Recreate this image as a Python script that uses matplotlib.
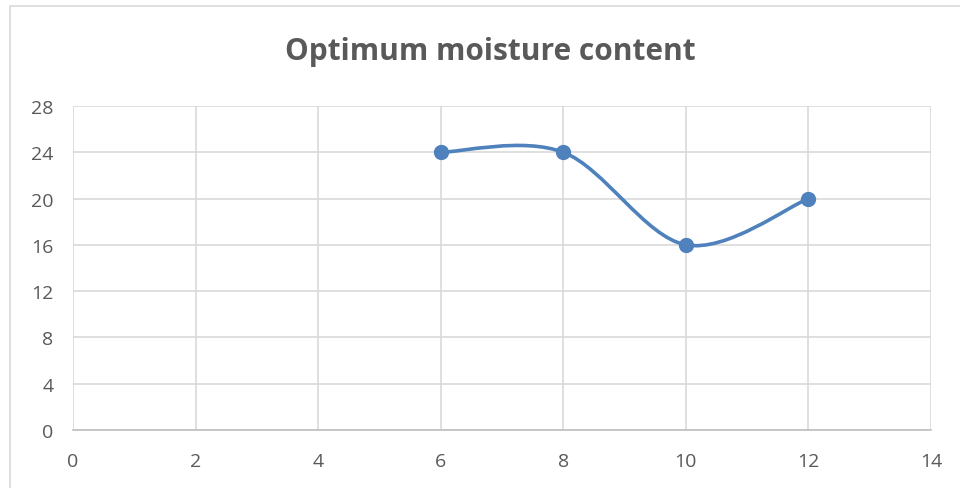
import matplotlib
matplotlib.use("Agg")
import matplotlib.pyplot as plt
from matplotlib.path import Path
from matplotlib.patches import PathPatch, Rectangle

x_vals = [6, 8, 10, 12]
y_vals = [24, 24, 16, 20]
x_ticks = [0, 2, 4, 6, 8, 10, 12, 14]
y_ticks = [0, 4, 8, 12, 16, 20, 24, 28]
title = "Optimum moisture content"

plt.rcParams['font.family'] = ['Open Sans', 'DejaVu Sans']
fig = plt.figure(figsize=(9.6, 4.89), dpi=100)
ax = fig.add_axes([73/960, 1-431/489, (931-73)/960, (431-107)/489])

# Excel-style smoothed line (Catmull-Rom -> cubic Bezier)
pts = list(zip(x_vals, y_vals))
verts = [pts[0]]
codes = [Path.MOVETO]
n = len(pts)
for i in range(n-1):
    p0 = pts[i-1] if i > 0 else pts[i]
    p1 = pts[i]
    p2 = pts[i+1]
    p3 = pts[i+2] if i+2 < n else pts[i+1]
    c1 = (p1[0] + (p2[0]-p0[0])/6, p1[1] + (p2[1]-p0[1])/6)
    c2 = (p2[0] - (p3[0]-p1[0])/6, p2[1] - (p3[1]-p1[1])/6)
    verts += [c1, c2, p2]
    codes += [Path.CURVE4]*3
color = '#4F81BD'
ax.add_patch(PathPatch(Path(verts, codes), facecolor='none', edgecolor=color,
                       lw=2.6, capstyle='round', joinstyle='round', zorder=3))
ax.plot(x_vals, y_vals, 'o', color=color, markersize=10, zorder=4)

ax.set_xlim(0, 14)
ax.set_ylim(0, 28)
ax.set_xticks(x_ticks)
ax.set_yticks(y_ticks)
ax.grid(True, color='#d9d9d9', lw=1.2)
ax.set_axisbelow(True)
for s in ['top', 'right', 'left']:
    ax.spines[s].set_visible(False)
ax.spines['bottom'].set_color('#bfbfbf')
ax.spines['bottom'].set_linewidth(1.2)
ax.tick_params(length=0, labelsize=14, labelcolor='#595959')
ax.tick_params(axis='x', pad=16)
ax.tick_params(axis='y', pad=14)

fig.text(490/960, 1-52/489, title, ha='center', va='center', fontsize=21.5,
         fontweight='bold', color='#595959')

fig.patches.append(Rectangle((10/960, -0.05), 1.0, 1-7/489+0.05,
                             transform=fig.transFigure, fill=False,
                             edgecolor='#d9d9d9', lw=1.2))

fig.savefig('out.png', dpi=100)
